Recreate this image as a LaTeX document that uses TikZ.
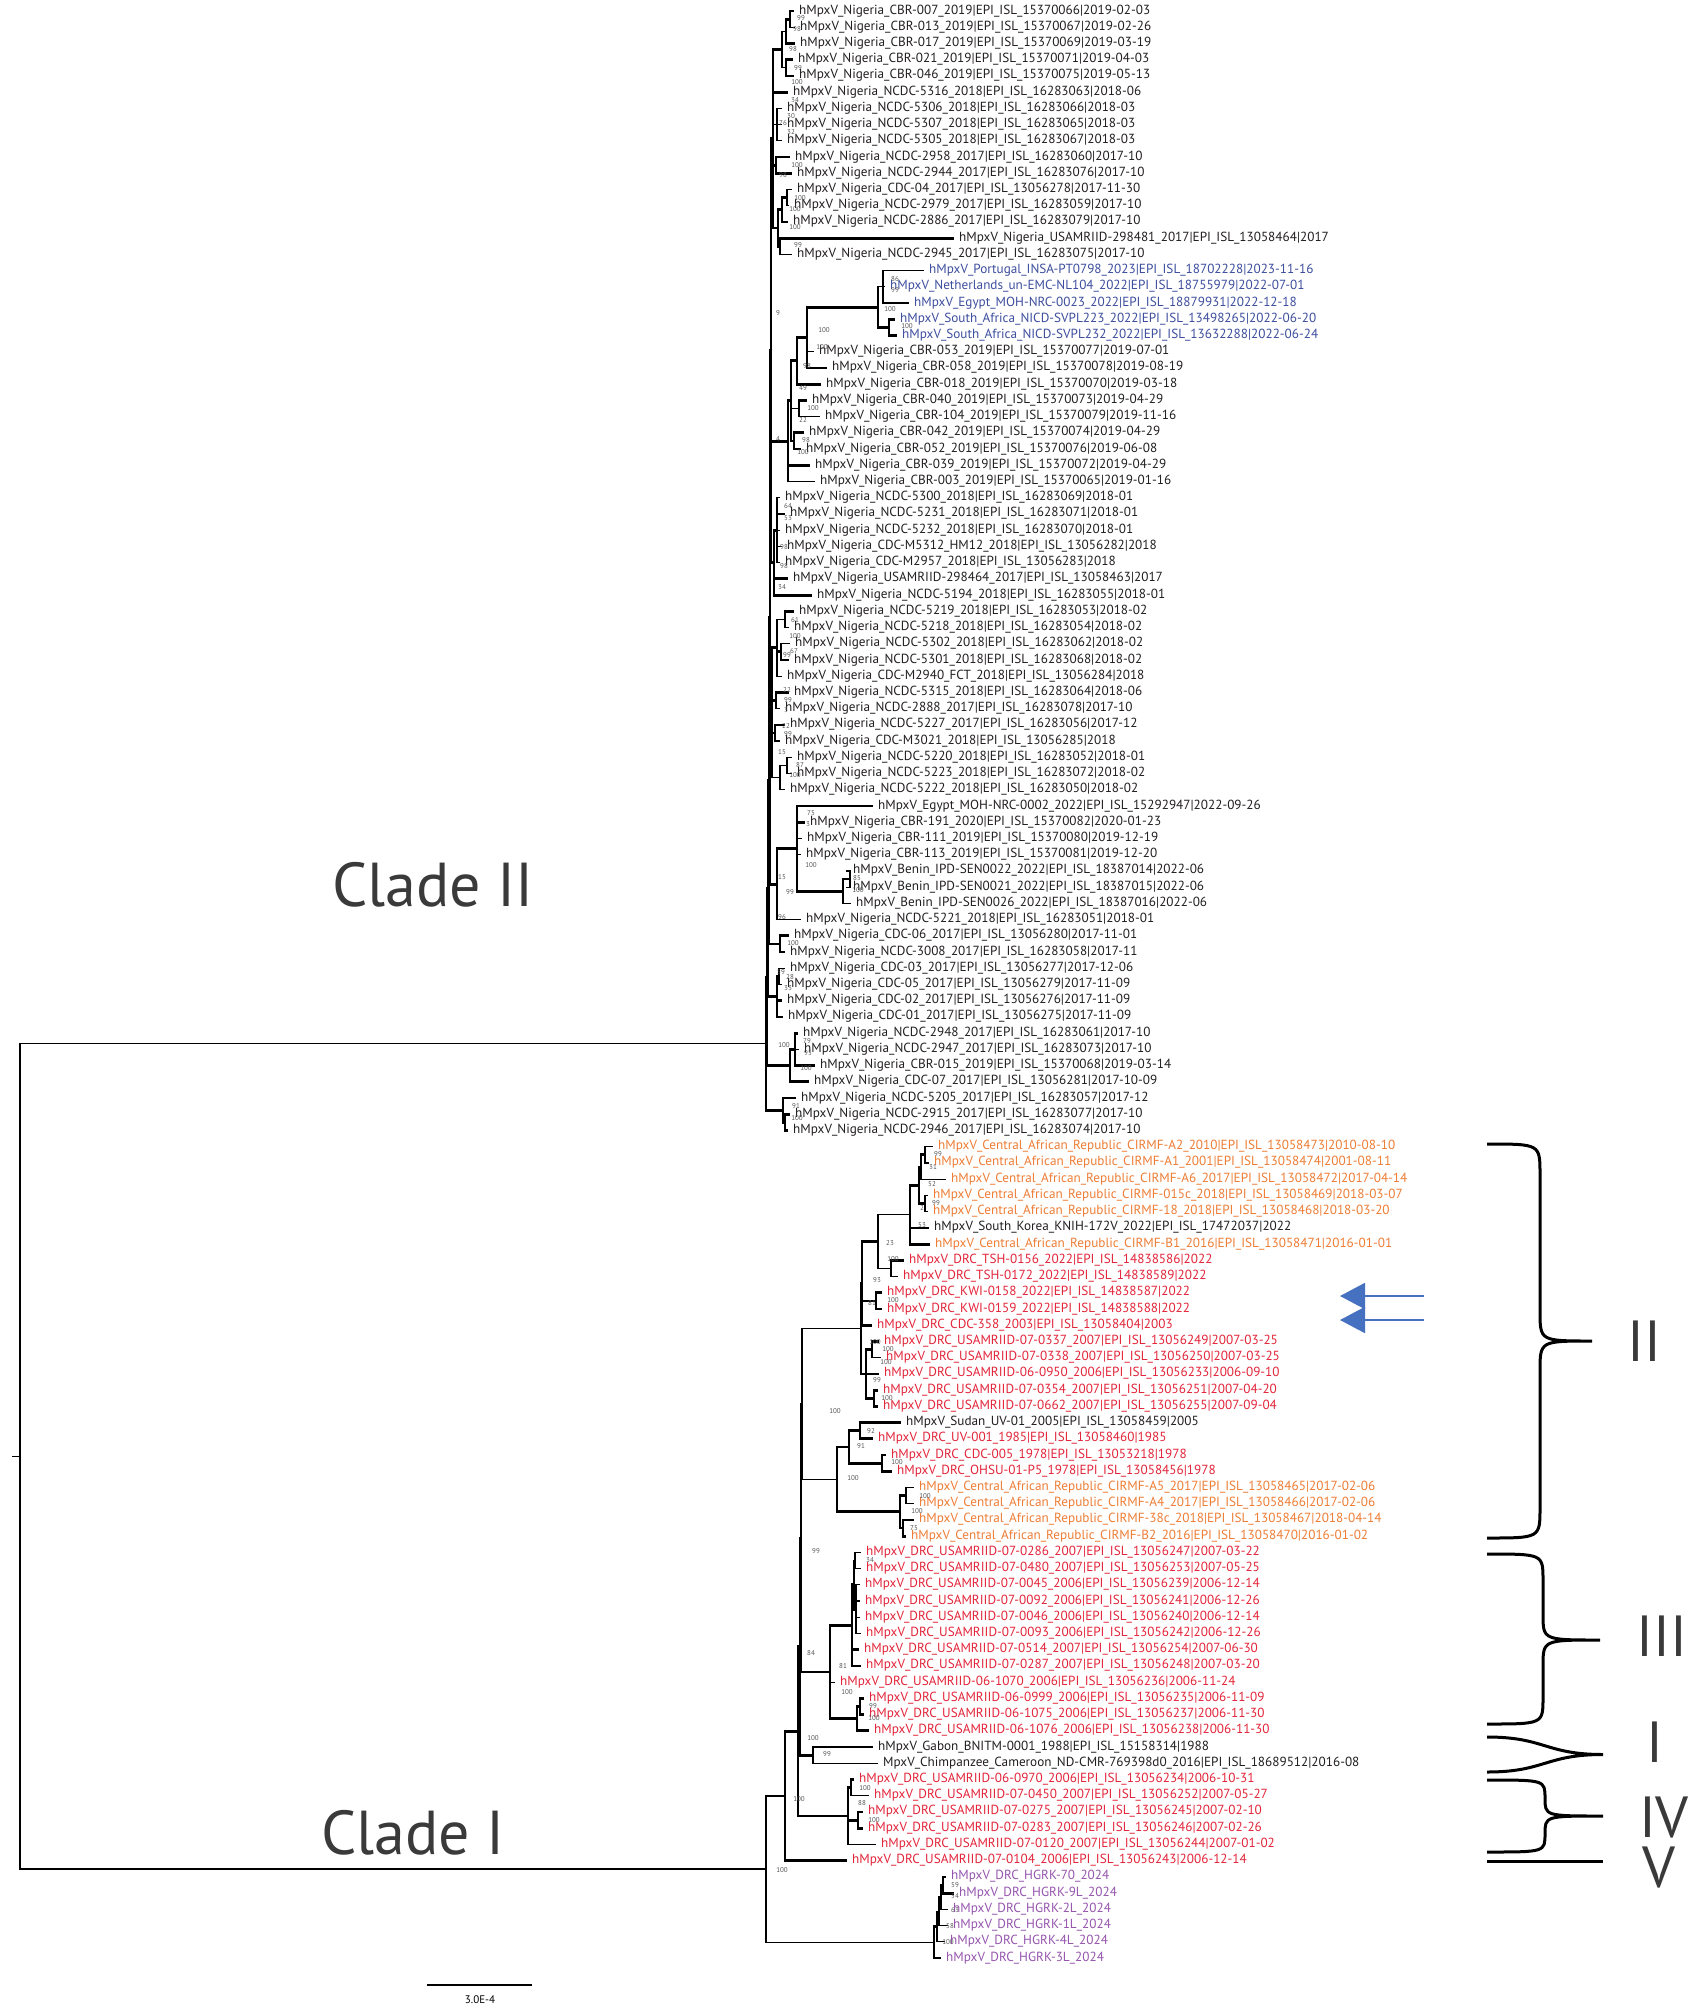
\documentclass[tikz,border=0pt]{standalone}
\usepackage{fontspec}
\setmainfont{PT Sans}
\usetikzlibrary{arrows.meta}
\definecolor{ctxt}{HTML}{231F20}
\definecolor{cblue}{HTML}{3D4E9E}
\definecolor{corange}{HTML}{EE7D35}
\definecolor{cred}{HTML}{E3253A}
\definecolor{cpurple}{HTML}{9656AE}
\definecolor{carrow}{HTML}{4670C0}
\definecolor{cbs}{HTML}{555555}
\definecolor{cbig}{HTML}{3A3A3A}
\begin{document}
\catcode`\_=12
\begin{tikzpicture}[x=1pt,y=-1pt,line cap=rect,
  br/.style={line width=1.3pt},
  bt/.style={line width=2.8pt},
  lab/.style={anchor=west,inner sep=0pt,font=\fontsize{13.2}{14}\selectfont,text height=9pt,text depth=3pt},
  bsl/.style={font=\fontsize{7}{7}\selectfont,text=cbs,inner sep=0pt},
  big/.style={font=\fontsize{62}{62}\selectfont,text=cbig,inner sep=0pt},
  roman/.style={font=\fontsize{58}{58}\selectfont,text=cbig,inner sep=0pt},
  brc/.style={line width=3pt,line cap=butt},
  arr/.style={draw=carrow,line width=2pt,-{Triangle[length=25pt,width=26pt]}}]
\fill[white] (0,0) rectangle (1700,2011);
\useasboundingbox (0,0) rectangle (1700,2011);
\begin{scope}[y=-16.225pt,yshift=5.225pt]
\foreach \i/\lx/\c/\tx in {
1/799/ctxt/hMpxV_Nigeria_CBR-007_2019|EPI_ISL_15370066|2019-02-03,
2/800/ctxt/hMpxV_Nigeria_CBR-013_2019|EPI_ISL_15370067|2019-02-26,
3/800/ctxt/hMpxV_Nigeria_CBR-017_2019|EPI_ISL_15370069|2019-03-19,
4/798/ctxt/hMpxV_Nigeria_CBR-021_2019|EPI_ISL_15370071|2019-04-03,
5/799/ctxt/hMpxV_Nigeria_CBR-046_2019|EPI_ISL_15370075|2019-05-13,
6/793/ctxt/hMpxV_Nigeria_NCDC-5316_2018|EPI_ISL_16283063|2018-06,
7/787/ctxt/hMpxV_Nigeria_NCDC-5306_2018|EPI_ISL_16283066|2018-03,
8/787/ctxt/hMpxV_Nigeria_NCDC-5307_2018|EPI_ISL_16283065|2018-03,
9/787/ctxt/hMpxV_Nigeria_NCDC-5305_2018|EPI_ISL_16283067|2018-03,
10/795/ctxt/hMpxV_Nigeria_NCDC-2958_2017|EPI_ISL_16283060|2017-10,
11/797/ctxt/hMpxV_Nigeria_NCDC-2944_2017|EPI_ISL_16283076|2017-10,
12/797/ctxt/hMpxV_Nigeria_CDC-04_2017|EPI_ISL_13056278|2017-11-30,
13/794/ctxt/hMpxV_Nigeria_NCDC-2979_2017|EPI_ISL_16283059|2017-10,
14/793/ctxt/hMpxV_Nigeria_NCDC-2886_2017|EPI_ISL_16283079|2017-10,
15/959/ctxt/hMpxV_Nigeria_USAMRIID-298481_2017|EPI_ISL_13058464|2017,
16/797/ctxt/hMpxV_Nigeria_NCDC-2945_2017|EPI_ISL_16283075|2017-10,
17/929/cblue/hMpxV_Portugal_INSA-PT0798_2023|EPI_ISL_18702228|2023-11-16,
18/890/cblue/hMpxV_Netherlands_un-EMC-NL104_2022|EPI_ISL_18755979|2022-07-01,
19/914/cblue/hMpxV_Egypt_MOH-NRC-0023_2022|EPI_ISL_18879931|2022-12-18,
20/900/cblue/hMpxV_South_Africa_NICD-SVPL223_2022|EPI_ISL_13498265|2022-06-20,
21/902/cblue/hMpxV_South_Africa_NICD-SVPL232_2022|EPI_ISL_13632288|2022-06-24,
22/819/ctxt/hMpxV_Nigeria_CBR-053_2019|EPI_ISL_15370077|2019-07-01,
23/832/ctxt/hMpxV_Nigeria_CBR-058_2019|EPI_ISL_15370078|2019-08-19,
24/826/ctxt/hMpxV_Nigeria_CBR-018_2019|EPI_ISL_15370070|2019-03-18,
25/812/ctxt/hMpxV_Nigeria_CBR-040_2019|EPI_ISL_15370073|2019-04-29,
26/825/ctxt/hMpxV_Nigeria_CBR-104_2019|EPI_ISL_15370079|2019-11-16,
27/809/ctxt/hMpxV_Nigeria_CBR-042_2019|EPI_ISL_15370074|2019-04-29,
28/806/ctxt/hMpxV_Nigeria_CBR-052_2019|EPI_ISL_15370076|2019-06-08,
29/815/ctxt/hMpxV_Nigeria_CBR-039_2019|EPI_ISL_15370072|2019-04-29,
30/820/ctxt/hMpxV_Nigeria_CBR-003_2019|EPI_ISL_15370065|2019-01-16,
31/785/ctxt/hMpxV_Nigeria_NCDC-5300_2018|EPI_ISL_16283069|2018-01,
32/790/ctxt/hMpxV_Nigeria_NCDC-5231_2018|EPI_ISL_16283071|2018-01,
33/785/ctxt/hMpxV_Nigeria_NCDC-5232_2018|EPI_ISL_16283070|2018-01,
34/787/ctxt/hMpxV_Nigeria_CDC-M5312_HM12_2018|EPI_ISL_13056282|2018,
35/785/ctxt/hMpxV_Nigeria_CDC-M2957_2018|EPI_ISL_13056283|2018,
36/793/ctxt/hMpxV_Nigeria_USAMRIID-298464_2017|EPI_ISL_13058463|2017,
37/817/ctxt/hMpxV_Nigeria_NCDC-5194_2018|EPI_ISL_16283055|2018-01,
38/799/ctxt/hMpxV_Nigeria_NCDC-5219_2018|EPI_ISL_16283053|2018-02,
39/794/ctxt/hMpxV_Nigeria_NCDC-5218_2018|EPI_ISL_16283054|2018-02,
40/795/ctxt/hMpxV_Nigeria_NCDC-5302_2018|EPI_ISL_16283062|2018-02,
41/794/ctxt/hMpxV_Nigeria_NCDC-5301_2018|EPI_ISL_16283068|2018-02,
42/787/ctxt/hMpxV_Nigeria_CDC-M2940_FCT_2018|EPI_ISL_13056284|2018,
43/794/ctxt/hMpxV_Nigeria_NCDC-5315_2018|EPI_ISL_16283064|2018-06,
44/785/ctxt/hMpxV_Nigeria_NCDC-2888_2017|EPI_ISL_16283078|2017-10,
45/790/ctxt/hMpxV_Nigeria_NCDC-5227_2017|EPI_ISL_16283056|2017-12,
46/785/ctxt/hMpxV_Nigeria_CDC-M3021_2018|EPI_ISL_13056285|2018,
47/797/ctxt/hMpxV_Nigeria_NCDC-5220_2018|EPI_ISL_16283052|2018-01,
48/797/ctxt/hMpxV_Nigeria_NCDC-5223_2018|EPI_ISL_16283072|2018-02,
49/790/ctxt/hMpxV_Nigeria_NCDC-5222_2018|EPI_ISL_16283050|2018-02,
50/878/ctxt/hMpxV_Egypt_MOH-NRC-0002_2022|EPI_ISL_15292947|2022-09-26,
51/810/ctxt/hMpxV_Nigeria_CBR-191_2020|EPI_ISL_15370082|2020-01-23,
52/807/ctxt/hMpxV_Nigeria_CBR-111_2019|EPI_ISL_15370080|2019-12-19,
53/806/ctxt/hMpxV_Nigeria_CBR-113_2019|EPI_ISL_15370081|2019-12-20,
54/853/ctxt/hMpxV_Benin_IPD-SEN0022_2022|EPI_ISL_18387014|2022-06,
55/853/ctxt/hMpxV_Benin_IPD-SEN0021_2022|EPI_ISL_18387015|2022-06,
56/856/ctxt/hMpxV_Benin_IPD-SEN0026_2022|EPI_ISL_18387016|2022-06,
57/806/ctxt/hMpxV_Nigeria_NCDC-5221_2018|EPI_ISL_16283051|2018-01,
58/794/ctxt/hMpxV_Nigeria_CDC-06_2017|EPI_ISL_13056280|2017-11-01,
59/790/ctxt/hMpxV_Nigeria_NCDC-3008_2017|EPI_ISL_16283058|2017-11,
60/790/ctxt/hMpxV_Nigeria_CDC-03_2017|EPI_ISL_13056277|2017-12-06,
61/787/ctxt/hMpxV_Nigeria_CDC-05_2017|EPI_ISL_13056279|2017-11-09,
62/787/ctxt/hMpxV_Nigeria_CDC-02_2017|EPI_ISL_13056276|2017-11-09,
63/788/ctxt/hMpxV_Nigeria_CDC-01_2017|EPI_ISL_13056275|2017-11-09,
64/803/ctxt/hMpxV_Nigeria_NCDC-2948_2017|EPI_ISL_16283061|2017-10,
65/804/ctxt/hMpxV_Nigeria_NCDC-2947_2017|EPI_ISL_16283073|2017-10,
66/820/ctxt/hMpxV_Nigeria_CBR-015_2019|EPI_ISL_15370068|2019-03-14,
67/814/ctxt/hMpxV_Nigeria_CDC-07_2017|EPI_ISL_13056281|2017-10-09,
68/801/ctxt/hMpxV_Nigeria_NCDC-5205_2017|EPI_ISL_16283057|2017-12,
69/795/ctxt/hMpxV_Nigeria_NCDC-2915_2017|EPI_ISL_16283077|2017-10,
70/793/ctxt/hMpxV_Nigeria_NCDC-2946_2017|EPI_ISL_16283074|2017-10,
71/938/corange/hMpxV_Central_African_Republic_CIRMF-A2_2010|EPI_ISL_13058473|2010-08-10,
72/934/corange/hMpxV_Central_African_Republic_CIRMF-A1_2001|EPI_ISL_13058474|2001-08-11,
73/951/corange/hMpxV_Central_African_Republic_CIRMF-A6_2017|EPI_ISL_13058472|2017-04-14,
74/933/corange/hMpxV_Central_African_Republic_CIRMF-015c_2018|EPI_ISL_13058469|2018-03-07,
75/933/corange/hMpxV_Central_African_Republic_CIRMF-18_2018|EPI_ISL_13058468|2018-03-20,
76/934/ctxt/hMpxV_South_Korea_KNIH-172V_2022|EPI_ISL_17472037|2022,
77/935/corange/hMpxV_Central_African_Republic_CIRMF-B1_2016|EPI_ISL_13058471|2016-01-01,
78/909/cred/hMpxV_DRC_TSH-0156_2022|EPI_ISL_14838586|2022,
79/903/cred/hMpxV_DRC_TSH-0172_2022|EPI_ISL_14838589|2022,
80/887/cred/hMpxV_DRC_KWI-0158_2022|EPI_ISL_14838587|2022,
81/887/cred/hMpxV_DRC_KWI-0159_2022|EPI_ISL_14838588|2022,
82/877/cred/hMpxV_DRC_CDC-358_2003|EPI_ISL_13058404|2003,
83/884/cred/hMpxV_DRC_USAMRIID-07-0337_2007|EPI_ISL_13056249|2007-03-25,
84/886/cred/hMpxV_DRC_USAMRIID-07-0338_2007|EPI_ISL_13056250|2007-03-25,
85/884/cred/hMpxV_DRC_USAMRIID-06-0950_2006|EPI_ISL_13056233|2006-09-10,
86/883/cred/hMpxV_DRC_USAMRIID-07-0354_2007|EPI_ISL_13056251|2007-04-20,
87/883/cred/hMpxV_DRC_USAMRIID-07-0662_2007|EPI_ISL_13056255|2007-09-04,
88/906/ctxt/hMpxV_Sudan_UV-01_2005|EPI_ISL_13058459|2005,
89/878/cred/hMpxV_DRC_UV-001_1985|EPI_ISL_13058460|1985,
90/891/cred/hMpxV_DRC_CDC-005_1978|EPI_ISL_13053218|1978,
91/897/cred/hMpxV_DRC_OHSU-01-P5_1978|EPI_ISL_13058456|1978,
92/919/corange/hMpxV_Central_African_Republic_CIRMF-A5_2017|EPI_ISL_13058465|2017-02-06,
93/919/corange/hMpxV_Central_African_Republic_CIRMF-A4_2017|EPI_ISL_13058466|2017-02-06,
94/919/corange/hMpxV_Central_African_Republic_CIRMF-38c_2018|EPI_ISL_13058467|2018-04-14,
95/911/corange/hMpxV_Central_African_Republic_CIRMF-B2_2016|EPI_ISL_13058470|2016-01-02,
96/866/cred/hMpxV_DRC_USAMRIID-07-0286_2007|EPI_ISL_13056247|2007-03-22,
97/866/cred/hMpxV_DRC_USAMRIID-07-0480_2007|EPI_ISL_13056253|2007-05-25,
98/865/cred/hMpxV_DRC_USAMRIID-07-0045_2006|EPI_ISL_13056239|2006-12-14,
99/865/cred/hMpxV_DRC_USAMRIID-07-0092_2006|EPI_ISL_13056241|2006-12-26,
100/865/cred/hMpxV_DRC_USAMRIID-07-0046_2006|EPI_ISL_13056240|2006-12-14,
101/866/cred/hMpxV_DRC_USAMRIID-07-0093_2006|EPI_ISL_13056242|2006-12-26,
102/864/cred/hMpxV_DRC_USAMRIID-07-0514_2007|EPI_ISL_13056254|2007-06-30,
103/866/cred/hMpxV_DRC_USAMRIID-07-0287_2007|EPI_ISL_13056248|2007-03-20,
104/840/cred/hMpxV_DRC_USAMRIID-06-1070_2006|EPI_ISL_13056236|2006-11-24,
105/869/cred/hMpxV_DRC_USAMRIID-06-0999_2006|EPI_ISL_13056235|2006-11-09,
106/869/cred/hMpxV_DRC_USAMRIID-06-1075_2006|EPI_ISL_13056237|2006-11-30,
107/874/cred/hMpxV_DRC_USAMRIID-06-1076_2006|EPI_ISL_13056238|2006-11-30,
108/878/ctxt/hMpxV_Gabon_BNITM-0001_1988|EPI_ISL_15158314|1988,
109/883/ctxt/MpxV_Chimpanzee_Cameroon_ND-CMR-769398d0_2016|EPI_ISL_18689512|2016-08,
110/859/cred/hMpxV_DRC_USAMRIID-06-0970_2006|EPI_ISL_13056234|2006-10-31,
111/874/cred/hMpxV_DRC_USAMRIID-07-0450_2007|EPI_ISL_13056252|2007-05-27,
112/868/cred/hMpxV_DRC_USAMRIID-07-0275_2007|EPI_ISL_13056245|2007-02-10,
113/868/cred/hMpxV_DRC_USAMRIID-07-0283_2007|EPI_ISL_13056246|2007-02-26,
114/881/cred/hMpxV_DRC_USAMRIID-07-0120_2007|EPI_ISL_13056244|2007-01-02,
115/852/cred/hMpxV_DRC_USAMRIID-07-0104_2006|EPI_ISL_13056243|2006-12-14,
116/951/cpurple/hMpxV_DRC_HGRK-70_2024,
117/959/cpurple/hMpxV_DRC_HGRK-9L_2024,
118/953/cpurple/hMpxV_DRC_HGRK-2L_2024,
119/953/cpurple/hMpxV_DRC_HGRK-1L_2024,
120/950/cpurple/hMpxV_DRC_HGRK-4L_2024,
121/946/cpurple/hMpxV_DRC_HGRK-3L_2024}
{
  \node[lab,text=\c] (L\i) at (\lx,\i) {\tx};
  \coordinate (T\i) at (\lx-6,\i);
}
% internal nodes: clade II
\foreach \n/\x/\y in {a12/790/1.5, a123/786/2.25, a45/786/4.5, a15/782/3.375, a79/777/8, a1011/776/10.5,
  a1213/787/12.5, a1214/782/13.25, a1516/780/15.5, a1216/778/14.375, Ze/773/8.875,
  bl1/883/18, bl2/889/20.5, bl/878/19.25, blp/807/21.125, b2/797/22.5625, b25/799/25.5, b27/794/27.5,
  b2p/791/25.03, b3/788/27.516, c1/777/33, c2/774/35, Zd/771/21.9375,
  d1/785/38.5, d2/781/40.5, d3/777/40.25, d4/776/43.5, d5/775/45.5, d6/787/47.5, d7/780/48.25, d/772/44.25,
  bn1/850/54.5, bn/843/55.25, EB/797/52.625, Y/777/54.8125, pair06/780/58.5, cdc1/779/60.5, cdc/777/61.75,
  g64/795/65, g67/790/66, g69/785/69.5, g70/783/68.75,
  Zc/770/38.375, Zb/769/48.4375, Za/768/55.09, Z/767/60.55, rootII/766/64.65}
  \coordinate (\n) at (\x,\y);
% internal nodes: clade I
\foreach \n/\x/\y in {Q1/925/71.5, Q1p/921/72.25, Q2/925/74.5, Q/919/73.375, CAR1/910/75.19, TS/891/78.5,
  R/878/76.84, KW/876/80.5, S/862/79.42, U1/872/83.5, U2/874/86.5, U/866/85, D/861/82.21,
  F1/860/88.5, F2/882/90.5, F/849/89.5, G1/906/92.5, G3/903/94.5, G/900/93.5, E/837/91.5, H/802/86.855,
  P1/855/96.5, P2/856/99.5, IIIa/854/98, IIIap/852/100.5, IIIb1/860/105.5, IIIb/857/106.25, III/830/103.375,
  K/801/95.115, I/813/108.5, J/800/101.81, IVa/851/110.5, IVp/858/112.5, IV/848/112.25, C/798/107.03,
  B/785/111.015, h5/943/116.5, h4/941/117.25, h3/939/118.125, h2/937/119.06, h1/934/120.03, A/766/115.52,
  root/20/90.085, rstub/13/90.085}
  \coordinate (\n) at (\x,\y);
% thin branches
\foreach \p/\q in {a12/T2, a15/a123, a15/a45, a79/T7, a79/T8, a79/T9, a1213/T12, a1213/T13, a1214/T14, a1516/T16, Ze/a79,
  bl1/T17, bl1/T18, bl/bl1, blp/T22, b25/T26, b3/T30, b2p/b25,
  c1/T31, c1/T33, c1/T34, c1/T35,
  d1/T39, d2/T40, d3/d1, d3/T42, d4/T44, d5/T46, d6/T47, d6/T48, d7/d6, d7/T49, d/d5, d/d7,
  EB/T52, EB/T53, bn1/T54, bn1/T55, bn/bn1, bn/T56, Y/T57, cdc1/T60, cdc1/T61, g64/T65,
  Q1/T71, Q1/T72, Q1p/T73, Q2/T74, Q2/T75, CAR1/T76, TS/T79, R/CAR1, R/TS, U1/T84, G1/T92, G1/T93, G3/T94,
  H/D, H/E, P1/T96, P1/T97, P2/T98, P2/T99, P2/T100, P2/T101, IIIa/P1, III/T104, K/H, K/III, I/T109,
  IVa/T111, IV/T114, h5/T116, h4/T118, h3/T119, h2/h3, h2/T120, A/h1, root/rootII, root/A}
  \draw[br] (\p) |- (\q);
\draw[br] (rstub) -- (root);
% thick branches
\foreach \p/\q in {a12/T1, a123/a12, a123/T3, a45/T4, a45/T5, Ze/a15, Ze/T6, Ze/a1011, Ze/a1216, a1011/T10, a1011/T11,
  a1214/a1213, a1516/T15, a1216/a1214, a1216/a1516,
  bl1/T19, bl2/T20, bl2/T21, bl/bl2, blp/bl, blp/T23, b2/blp, b2/T24, b25/T25, b27/T27, b27/T28, b2p/b2, b2p/b27, b3/b2p, b3/T29,
  c1/T32, c2/c1, c2/T36, c2/T37, Zd/Ze, Zd/b3, Zd/c2,
  d1/T38, d2/T41, d3/d2, d4/T43, d5/T45, d/d3, d/d4,
  EB/T50, EB/T51, EB/bn, Y/EB, pair06/T58, pair06/T59, cdc/cdc1, cdc/T62, cdc/T63,
  g64/T64, g64/T66, g67/g64, g67/T67, g69/T69, g69/T70, g70/T68, g70/g69,
  Zc/Zd, Zc/d, Zc/Y, Zb/Zc, Zb/pair06, Za/Zb, Za/cdc, Z/Za, Z/g67, rootII/Z, rootII/g70,
  Q1p/Q1, Q/Q1p, Q/Q2, CAR1/Q, CAR1/T77, TS/T78, KW/T80, KW/T81, S/R, S/KW, S/T82, U1/T83, U2/T86, U2/T87,
  U/U1, U/T85, U/U2, D/S, D/U, F1/T88, F1/T89, F2/T90, F2/T91, F/F1, F/F2, G/G1, G/G3, G3/T95, E/F, E/G,
  IIIa/P2, IIIap/IIIa, IIIap/T102, IIIap/T103, IIIb1/T105, IIIb1/T106, IIIb/IIIb1, IIIb/T107, III/IIIap, III/IIIb,
  I/T108, J/K, J/I, IVa/T110, IVp/T112, IVp/T113, IV/IVa, IV/IVp, C/J, C/IV, B/C, B/T115,
  h5/T117, h4/h5, h3/h4, h1/h2, h1/T121, A/B}
  \draw[bt] (\p) |- (\q);
\end{scope}
% bootstrap values
\foreach \x/\y/\v [count=\k] in {801/18/99, 797/29/98, 793/49/98, 798/68/99, 797/82/100, 795/100/34, 791/116/30, 783/123/76, 791/132/32, 797/165/100,
  783/175/98, 800/198/100, 795/209/100, 795/227/100, 798/245/99, 895/279/86, 895/290/99, 778/313/9, 890/309/100, 824/330/100, 907/326/100,
  822/347/100, 807/366/98, 803/388/49, 813/408/100, 803/420/22, 778/439/4, 806/440/98, 803/452/100,
  788/506/64, 788/518/53, 784/547/98, 784/566/98, 782/587/34, 795/620/61, 795/636/100, 794/651/67, 787/655/99,
  787/690/22, 788/700/99, 786/710/3, 786/726/22, 788/734/99, 782/752/15, 800/765/87, 795/775/100, 811/813/75, 808/824/3,
  811/865/100, 782/877/15, 857/878/85, 858/890/100, 790/892/99, 782/917/96, 793/943/100, 781/972/59, 790/977/28,
  788/988/33, 784/1045/100, 807/1041/79, 808/1053/95, 806/1068/100, 796/1106/91, 797/1118/100,
  938/1154/99, 933/1167/31, 932/1184/52, 936/1203/99, 922/1208/2, 922/1225/53, 890/1243/23, 893/1259/100, 877/1280/93, 893/1300/100, 872/1303/81,
  875/1342/100, 888/1349/100, 886/1362/100, 877/1380/99, 887/1398/100, 835/1411/100, 871/1431/92, 861/1446/91, 897/1462/100, 853/1478/100,
  925/1496/100, 917/1511/100, 914/1528/75, 816/1551/99, 870/1560/34,
  811/1653/84, 843/1666/81, 847/1692/100, 873/1706/99, 874/1718/100, 813/1738/100, 827/1754/99, 865/1788/100, 799/1799/100,
  862/1803/88, 874/1820/100, 782/1870/100, 955/1885/59, 955/1896/54, 955/1910/63, 950/1926/58, 948/1942/100}
  \node[bsl] (bs\k) at (\x,\y) {\v};
% clade labels
\node[big] (cladeII) at (433,885) {Clade II};
\node[big] (cladeI) at (413,1833) {Clade I};
% scale bar
\coordinate (sb1) at (427,1985);
\coordinate (sb2) at (532,1985);
\draw[line width=2pt,line cap=butt] (sb1) -- (sb2);
\node[font=\fontsize{11}{11}\selectfont,inner sep=0pt] (sbl) at (480,2000) {3.0E-4};
% arrows
\coordinate (a1s) at (1423,1296); \coordinate (a1e) at (1340,1296);
\coordinate (a2s) at (1423,1320); \coordinate (a2e) at (1340,1320);
\draw[arr] (a1s) -- (a1e);
\draw[arr] (a2s) -- (a2e);
% braces
\draw[brc] (1487,1144) .. controls (1540,1144) .. (1540,1174) -- (1540,1311) .. controls (1540,1341) .. (1592,1341)
  .. controls (1540,1341) .. (1540,1371) -- (1540,1508) .. controls (1540,1538) .. (1487,1538);
\draw[brc] (1487,1554) .. controls (1543,1554) .. (1543,1580) -- (1543,1614) .. controls (1543,1640) .. (1600,1640)
  .. controls (1543,1640) .. (1543,1666) -- (1543,1698) .. controls (1543,1724) .. (1487,1724);
\draw[brc] (1487,1737) .. controls (1545,1737) and (1545,1754.5) .. (1603,1754.5)
  .. controls (1545,1754.5) and (1545,1772) .. (1487,1772);
\draw[brc] (1487,1780) .. controls (1545,1780) .. (1545,1798) .. controls (1545,1816) .. (1603,1816)
  .. controls (1545,1816) .. (1545,1834) .. controls (1545,1852) .. (1487,1852);
\draw[brc] (1487,1861) -- (1603,1861);
\node[roman] (rII) at (1644,1341) {II};
\node[roman] (rIII) at (1662,1636) {III};
\node[roman] (rI) at (1655,1742) {I};
\node[roman] (rIV) at (1664,1817) {IV};
\node[roman] (rV) at (1659,1867) {V};
\end{tikzpicture}
\end{document}
